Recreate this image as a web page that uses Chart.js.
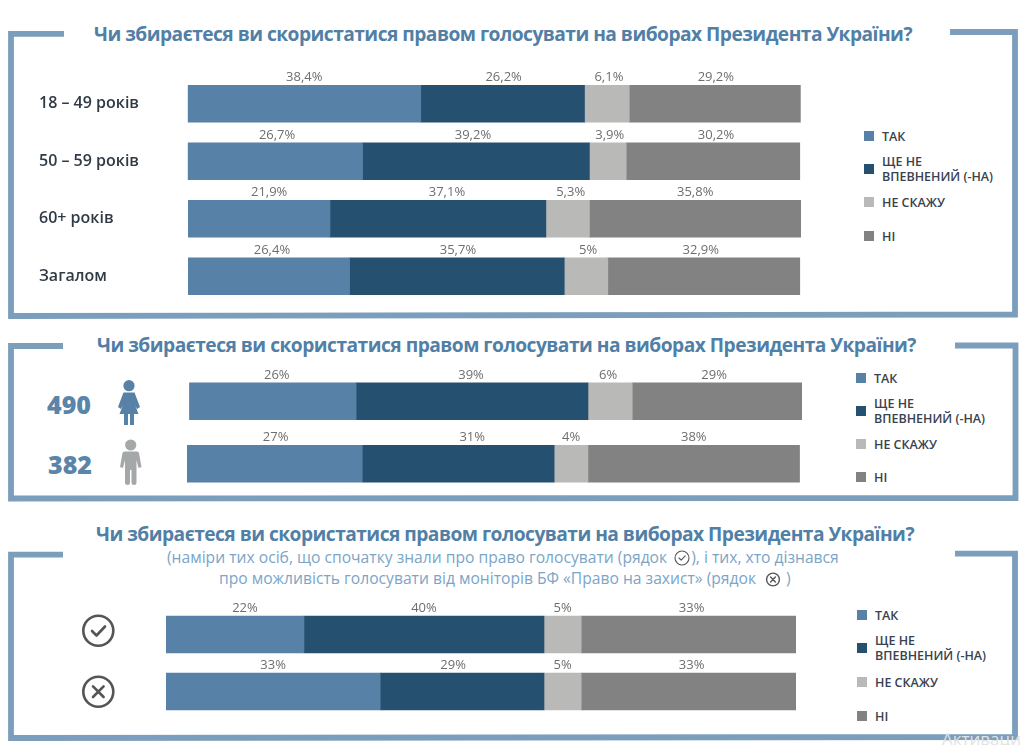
<!DOCTYPE html>
<html lang="uk">
<head>
<meta charset="utf-8">
<title>Вибори Президента України</title>
<script src="https://cdn.jsdelivr.net/npm/chart.js@4"></script>
<style>
  html, body { margin: 0; background: #fff; overflow: hidden; }
  body { width: 1024px; height: 745px; position: relative; font-family: "Open Sans", sans-serif; }
  canvas, svg, .txt, .sw { position: absolute; }
  .txt { white-space: nowrap; line-height: 1; }
  .title { font-weight: 700; font-size: 19.2px; color: #517fa6; }
  .sub { font-size: 15.65px; color: #7ba5c6; }
  .leg { font-weight: 600; font-size: 12.5px; color: #39424e; line-height: 15px; }
  .num { font-weight: 800; font-size: 25px; color: #5a85aa; }
  .sw { width: 10px; height: 10px; }
</style>
</head>
<body>
<svg width="1024" height="745" style="left:0;top:0">
  <g fill="none" stroke="#7a9ebc" stroke-width="5.8">
    <polyline points="64,33.8 11,33.8 11,316 1015,314.5 1015,32 950,32"/>
    <polyline points="63,346 11,346 11,498.5 1015.5,498 1015.5,345.5 955,345.5"/>
    <polyline points="63,554.7 11,554.7 11,738 1015,737 1015,553.7 955,553.7"/>
  </g>
  <!-- жінка -->
  <g fill="#5781a6">
    <circle cx="129" cy="385.7" r="5.6"/>
    <path d="M123.5,392.5 H134.5 L140,407 L137,409 L135,405 L138.5,414 H134 V425 H130 V414 H128 V425 H124 V414 H119.5 L123,405 L121,409 L118,407 Z"/>
  </g>
  <!-- чоловік -->
  <g fill="#a5a8a8">
    <circle cx="130.7" cy="445" r="5.6"/>
    <path d="M124.5,451.5 H137 Q138.5,451.5 139,453 L141.5,467 L138.5,468 L136.5,460 V483 Q136.5,485 134,485 Q131.5,485 131.5,483 V470 H130 V483 Q130,485 127.5,485 Q125,485 125,483 V460 L123,468 L120,467 L122.5,453 Q123,451.5 124.5,451.5 Z"/>
  </g>
  <g fill="none" stroke="#555" stroke-width="2.6" stroke-linecap="round" stroke-linejoin="round">
    <circle cx="98.3" cy="630.7" r="15"/>
    <polyline points="92,631 96.5,635.5 105,626.5"/>
    <circle cx="98.3" cy="691.7" r="15"/>
    <path d="M93,686.4 L103.6,697 M103.6,686.4 L93,697"/>
  </g>
  <g fill="none" stroke="#555" stroke-width="1.1" stroke-linecap="round" stroke-linejoin="round">
    <circle cx="682" cy="558" r="7"/>
    <polyline points="679,558 681.2,560.2 685.2,555.8"/>
  </g>
  <g fill="none" stroke="#555" stroke-width="1.4" stroke-linecap="round">
    <circle cx="773" cy="579.5" r="6.4"/>
    <path d="M770.6,577.1 L775.4,581.9 M775.4,577.1 L770.6,581.9"/>
  </g>
</svg>

<div class="txt title" data-x="94" data-r="912" style="top:24px">Чи збираєтеся ви скористатися правом голосувати на виборах Президента України?</div>
<div class="txt title" data-x="97" data-r="916" style="top:335px">Чи збираєтеся ви скористатися правом голосувати на виборах Президента України?</div>
<div class="txt title" data-x="96" data-r="914" style="top:524px">Чи збираєтеся ви скористатися правом голосувати на виборах Президента України?</div>
<div class="txt sub" style="left:167px;top:550px">(наміри тих осіб, що спочатку знали про право голосувати (рядок <span style="display:inline-block;width:20px"></span>), і тих, хто дізнався</div>
<div class="txt sub" style="left:219px;top:571px">про можливість голосувати від моніторів БФ «Право на захист» (рядок <span style="display:inline-block;width:22px"></span> )</div>
<div class="txt" style="left:942px;top:730px;font-size:17px;color:#e3e3e3">Активаци</div>

<canvas id="vik"></canvas>
<canvas id="stat"></canvas>
<canvas id="rjadok"></canvas>

<script>
const legendNames = ["ТАК", "ЩЕ НЕ<br>ВПЕВНЕНИЙ (-НА)", "НЕ СКАЖУ", "НІ"];
const colors = ["#5781a6", "#265070", "#b9b9b8", "#828282"];

// довжини смуг, вони не завжди збігаються з підписами над смугами
const vikRows = ["18 – 49 років", "50 – 59 років", "60+ років", "Загалом"];
const vikOffset = [0, 0, 0.1, 0.1];
const vikTak = [38.0, 28.5, 23.1, 26.3];
const vikNe = [26.7, 37.0, 35.2, 35.0];
const vikNeSkazhu = [7.3, 6.0, 7.1, 7.1];
const vikNi = [27.9, 28.3, 34.5, 31.3];
const vikTakText = ["38,4%", "26,7%", "21,9%", "26,4%"];
const vikNeText = ["26,2%", "39,2%", "37,1%", "35,7%"];
const vikNeSkazhuText = ["6,1%", "3,9%", "5,3%", "5%"];
const vikNiText = ["29,2%", "30,2%", "35,8%", "32,9%"];

const statRows = ["490", "382"];
const statOffset = [0.4, 0];
const statTak = [27.1, 28.5];
const statNe = [37.7, 31.2];
const statNeSkazhu = [7.2, 5.5];
const statNi = [27.6, 34.4];
const statTakText = ["26%", "27%"];
const statNeText = ["39%", "31%"];
const statNeSkazhuText = ["6%", "4%"];
const statNiText = ["29%", "38%"];

const rjadokRows = ["знали про право", "дізнались від моніторів"];
const rjadokOffset = [0, 0];
const rjadokTak = [21.9, 34.0];
const rjadokNe = [38.1, 26.0];
const rjadokNeSkazhu = [5.9, 5.9];
const rjadokNi = [34.1, 34.1];
const rjadokTakText = ["22%", "33%"];
const rjadokNeText = ["40%", "29%"];
const rjadokNeSkazhuText = ["5%", "5%"];
const rjadokNiText = ["33%", "33%"];

// підписи стоять не точно по центру сегмента, зсув у пікселях: рядок -> сегмент
const vikShift = [[0, 1, 2, 1], [2, -3, 2, 3], [10, 9, 3, 0], [3, 1, 2, -3]];
const statShift = [[4, -1, -2, -3], [1, 14, 0, 0]];
const rjadokShift = [[10, 0, 0, 3], [0, -9, 0, 3]];

const percentLabels = {
  id: "percentLabels",
  afterDatasetsDraw(chart) {
    const { ctx } = chart;
    ctx.save();
    ctx.font = '13px "Open Sans"';
    ctx.fillStyle = "#6e6e6e";
    ctx.textAlign = "center";
    ctx.textBaseline = "middle";
    chart.data.datasets.forEach((ds, i) => {
      if (!ds.texts) return;
      chart.getDatasetMeta(i).data.forEach((bar, r) => {
        const x = (bar.x + bar.base) / 2 + chart.options.labelShift[r][i - 1];
        ctx.fillText(ds.texts[r], x, bar.y - bar.height / 2 - 7.6);
      });
    });
    ctx.restore();
  },
};

function drawPanel(id, box, rows, offset, series, texts, shift, showRows) {
  const canvas = document.getElementById(id);
  canvas.width = box.w;
  canvas.height = box.h;
  canvas.style.left = box.x + "px";
  canvas.style.top = box.y + "px";

  const datasets = [{ label: "зсув", data: offset, backgroundColor: "transparent" }];
  series.forEach((s, i) => {
    datasets.push({
      label: legendNames[i],
      data: s,
      texts: texts[i],
      backgroundColor: colors[i],
    });
  });
  datasets.forEach(d => { d.barThickness = 37; d.borderWidth = 0; });

  return new Chart(canvas, {
    type: "bar",
    data: { labels: rows, datasets },
    options: {
      indexAxis: "y",
      responsive: false,
      animation: false,
      labelShift: shift,
      layout: { padding: { top: 20 } },
      plugins: { legend: { display: false }, tooltip: { enabled: false } },
      scales: {
        x: { stacked: true, min: 0, max: 100, display: false },
        y: {
          stacked: true,
          display: showRows,
          grid: { display: false },
          border: { display: false },
          afterFit: s => { s.width = box.axis; s.paddingTop = 0; s.paddingBottom = 0; },
          ticks: {
            crossAlign: "far",
            padding: 0,
            color: "#2f3a45",
            font: { family: '"Open Sans"', size: 16, weight: "600" },
          },
        },
      },
    },
    plugins: [percentLabels],
  });
}

function drawLegend(x, centers) {
  legendNames.forEach((name, i) => {
    const sw = document.createElement("div");
    sw.className = "sw";
    sw.style.left = x + "px";
    sw.style.top = centers[i] - 5 + "px";
    sw.style.background = colors[i];
    document.body.appendChild(sw);

    const t = document.createElement("div");
    t.className = "txt leg";
    t.innerHTML = name;
    t.style.left = x + 18 + "px";
    t.style.top = centers[i] - (name.includes("<br>") ? 15 : 7.5) + "px";
    document.body.appendChild(t);
  });
}

drawPanel("vik", { x: 39, y: 54.6, w: 762, h: 250, axis: 148.7 }, vikRows, vikOffset,
  [vikTak, vikNe, vikNeSkazhu, vikNi],
  [vikTakText, vikNeText, vikNeSkazhuText, vikNiText], vikShift, true);
drawPanel("stat", { x: 186.7, y: 350.2, w: 615, h: 145.4, axis: 0 }, statRows, statOffset,
  [statTak, statNe, statNeSkazhu, statNi],
  [statTakText, statNeText, statNeSkazhuText, statNiText], statShift, false);
drawPanel("rjadok", { x: 166, y: 585.5, w: 630, h: 134.6, axis: 0 }, rjadokRows, rjadokOffset,
  [rjadokTak, rjadokNe, rjadokNeSkazhu, rjadokNi],
  [rjadokTakText, rjadokNeText, rjadokNeSkazhuText, rjadokNiText], rjadokShift, false);

drawLegend(864, [136, 168.5, 202, 236]);
drawLegend(856, [378, 410.5, 444, 477]);
drawLegend(857, [615, 648, 682, 716]);

// кількість опитаних для другої панелі
[[47, 392, statRows[0]], [48, 452, statRows[1]]].forEach(([x, y, text]) => {
  const n = document.createElement("div");
  n.className = "txt num";
  n.textContent = text;
  n.style.left = x + "px";
  n.style.top = y + "px";
  document.body.appendChild(n);
});

// заголовки підганяємо під ширину оригіналу
document.querySelectorAll(".title").forEach(t => {
  t.style.left = t.dataset.x + "px";
  const need = t.dataset.r - t.dataset.x;
  const extra = (need - t.getBoundingClientRect().width) / t.textContent.length;
  t.style.letterSpacing = extra + "px";
});
</script>
</body>
</html>
